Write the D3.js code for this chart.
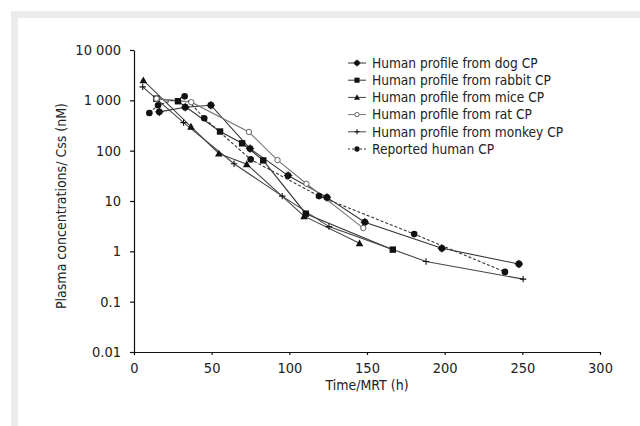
<!DOCTYPE html>
<html>
<head>
<meta charset="utf-8">
<script src="https://cdn.jsdelivr.net/npm/d3@7"></script>
<style>
  html, body { margin: 0; padding: 0; background: #fff; }
  svg { display: block; }
</style>
</head>
<body>
<svg id="chart" width="640" height="426"></svg>
<script>
// ---- data ----
const seriesNames = [
  "Human profile from dog CP",
  "Human profile from rabbit CP",
  "Human profile from mice CP",
  "Human profile from rat CP",
  "Human profile from monkey CP",
  "Reported human CP"
];
const dogTime = [16.3, 33, 49.5, 74.7, 99.2, 124.2, 148.6, 198.2, 247.8];
const dogConc = [590, 730, 800, 110, 32, 11.8, 3.8, 1.15, 0.56];
const rabbitTime = [14.4, 28.3, 55.4, 69.6, 83.2, 110.6, 166.6];
const rabbitConc = [1080, 960, 240, 140, 64, 5.6, 1.08];
const miceTime = [6, 36.7, 54.6, 72.6, 109.5, 145.2];
const miceConc = [2500, 300, 88, 54, 5.0, 1.45];
const ratTime = [14.5, 36.9, 74, 92.4, 111, 147.6];
const ratConc = [1080, 920, 235, 65, 22, 2.9];
const monkeyTime = [5.6, 31.9, 64.4, 95.4, 125.5, 188, 250.5];
const monkeyConc = [1850, 360, 55, 12.5, 3.1, 0.63, 0.28];
const reportedTime = [9.9, 15.5, 32.6, 45.2, 75.1, 119.1, 180.4, 238.8];
const reportedConc = [560, 800, 1200, 440, 67, 12.5, 2.2, 0.39];

const xTickValues = [0, 50, 100, 150, 200, 250, 300];
const yTickValues = [0.01, 0.1, 1, 10, 100, 1000, 10000];
const yTickLabels = ["0.01", "0.1", "1", "10", "100", "1 000", "10 000"];
const xTitle = "Time/MRT (h)";
const yTitle = "Plasma concentrations/ Css (nM)";

// ---- styles ----
const tickFont = "'Liberation Sans Narrow', 'DejaVu Sans Condensed', 'Liberation Sans', sans-serif";
const textFont = "'DejaVu Sans Condensed', 'Liberation Sans', sans-serif";

const series = [
  { name: seriesNames[0], t: dogTime, v: dogConc, marker: "star", color: "#333", dash: null },
  { name: seriesNames[1], t: rabbitTime, v: rabbitConc, marker: "square", color: "#333", dash: null },
  { name: seriesNames[2], t: miceTime, v: miceConc, marker: "triangle", color: "#444", dash: null },
  { name: seriesNames[3], t: ratTime, v: ratConc, marker: "open", color: "#777", dash: null },
  { name: seriesNames[4], t: monkeyTime, v: monkeyConc, marker: "plus", color: "#444", dash: null },
  { name: seriesNames[5], t: reportedTime, v: reportedConc, marker: "circle", color: "#333", dash: "3,2" }
];

const svg = d3.select("#chart");

// frame
svg.append("rect").attr("x", 0).attr("y", 0).attr("width", 640).attr("height", 426).attr("fill", "#fff");
svg.append("rect").attr("x", 11).attr("y", 11).attr("width", 629).attr("height", 415).attr("fill", "#ebebeb");
svg.append("rect").attr("x", 18).attr("y", 18).attr("width", 622).attr("height", 408).attr("fill", "#fff");

const x = d3.scaleLinear().domain([0, 300]).range([134, 600]);
const y = d3.scaleLog().domain([0.01, 10000]).range([352, 50]);

// axes
const xAxis = d3.axisBottom(x).tickValues(xTickValues).tickSize(3).tickSizeOuter(0).tickPadding(8)
  .tickFormat(d3.format("d"));
const gx = svg.append("g").attr("transform", `translate(0,${y(0.01)})`).call(xAxis);
const yAxis = d3.axisLeft(y).tickValues(yTickValues).tickSize(4).tickSizeOuter(0).tickPadding(9)
  .tickFormat((d, i) => yTickLabels[i]);
const gy = svg.append("g").attr("transform", `translate(${x(0)},0)`).call(yAxis);

[gx, gy].forEach(g => {
  g.select(".domain").attr("stroke", "#111").attr("stroke-width", 1.2);
  g.selectAll(".tick line").attr("stroke", "#111").attr("stroke-width", 1.2);
  g.selectAll(".tick text").attr("fill", "#222").style("font-family", tickFont).style("font-size", "14.5px");
});

// titles
svg.append("text").attr("x", 367).attr("y", 390).attr("text-anchor", "middle")
  .style("font-family", textFont).style("font-size", "14px").attr("fill", "#222").text(xTitle);
svg.append("text").attr("transform", "translate(66,206) rotate(-90)").attr("text-anchor", "middle")
  .style("font-family", textFont).style("font-size", "14px").attr("fill", "#222").text(yTitle);

// marker drawing
function drawMarker(g, type, cx, cy, color, scale) {
  const s = scale || 1;
  if (type === "star") {
    g.append("circle").attr("cx", cx).attr("cy", cy).attr("r", 3.4 * s).attr("fill", "#111");
    g.append("path").attr("d", `M${cx - 4.2 * s},${cy}H${cx + 4.2 * s}M${cx},${cy - 4.2 * s}V${cy + 4.2 * s}`)
      .attr("stroke", "#111").attr("stroke-width", 1);
  } else if (type === "square") {
    g.append("rect").attr("x", cx - 3.2 * s).attr("y", cy - 3.2 * s).attr("width", 6.4 * s).attr("height", 6.4 * s)
      .attr("fill", "#111");
  } else if (type === "triangle") {
    const h = 3.8 * s;
    g.append("path").attr("d", `M${cx},${cy - h}L${cx + h},${cy + h * 0.8}L${cx - h},${cy + h * 0.8}Z`).attr("fill", "#111");
  } else if (type === "open") {
    g.append("circle").attr("cx", cx).attr("cy", cy).attr("r", 2.7 * s).attr("fill", "#fff")
      .attr("stroke", "#555").attr("stroke-width", 0.9);
  } else if (type === "plus") {
    g.append("path").attr("d", `M${cx - 3.2 * s},${cy}H${cx + 3.2 * s}M${cx},${cy - 3.2 * s}V${cy + 3.2 * s}`)
      .attr("stroke", "#111").attr("stroke-width", 1.1);
  } else if (type === "circle") {
    g.append("circle").attr("cx", cx).attr("cy", cy).attr("r", 3.3 * s).attr("fill", "#111");
  }
}

const line = d3.line().x(d => x(d.t)).y(d => y(d.v));
const plot = svg.append("g");
series.forEach(s => {
  const pts = s.t.map((t, i) => ({ t: t, v: s.v[i] }));
  plot.append("path").datum(pts).attr("d", line).attr("fill", "none")
    .attr("stroke", s.color).attr("stroke-width", 1.1)
    .attr("stroke-dasharray", s.dash);
});
series.forEach(s => {
  const g = plot.append("g");
  s.t.forEach((t, i) => drawMarker(g, s.marker, x(t), y(s.v[i]), s.color, 1));
});

// legend
const legend = svg.append("g");
series.forEach((s, i) => {
  const ly = 63 + i * 17.2;
  const g = legend.append("g");
  g.append("line").attr("x1", 348).attr("x2", 366).attr("y1", ly).attr("y2", ly)
    .attr("stroke", s.color).attr("stroke-width", 1).attr("stroke-dasharray", s.dash ? "2,2" : null);
  drawMarker(g, s.marker, 357, ly, s.color, 0.8);
  g.append("text").attr("x", 372).attr("y", ly).attr("dy", "0.35em")
    .style("font-family", textFont).style("font-size", "13.6px").attr("fill", "#222").text(s.name);
});
</script>
</body>
</html>
